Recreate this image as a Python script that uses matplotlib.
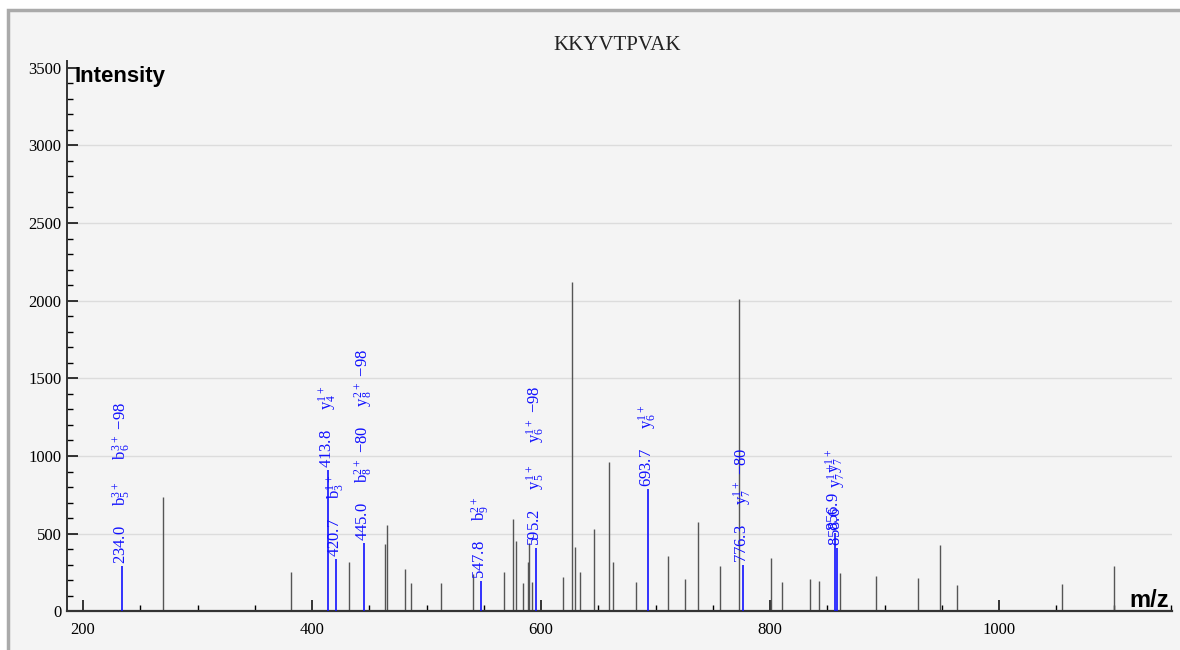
import matplotlib
matplotlib.use("Agg")
import matplotlib.pyplot as plt
from matplotlib.patches import Rectangle
from matplotlib.ticker import MultipleLocator

# ---------------- data ----------------
title = "KKYVTPVAK"

peak_mz = [270.1, 381.8, 431.9, 463.4, 465.1, 481.1, 486.3, 512.3, 540.5, 567.3,
           575.7, 578.3, 583.8, 588.2, 589.3, 592.5, 619.0, 626.8, 630.0, 633.9,
           645.8, 659.7, 662.7, 683.0, 710.7, 725.6, 736.9, 756.6, 772.7, 800.4,
           810.7, 834.7, 842.8, 860.8, 892.8, 929.2, 948.1, 963.3, 1055.2, 1100.6]
peak_int = [738, 251, 315, 433, 556, 270, 184, 180, 240, 253,
            592, 451, 184, 319, 442, 191, 219, 2120, 416, 253,
            528, 960, 315, 189, 353, 209, 575, 292, 2010, 341,
            187, 206, 195, 249, 225, 212, 429, 171, 174, 292]

ion_mz = [234.0, 413.8, 420.7, 445.0, 547.8, 595.2, 693.7, 776.3, 856.9, 858.6]
ion_int = [294, 910, 337, 442, 195, 405, 788, 300, 505, 405]
ion_labels = [
    [r"$b_5^{3+}$", r"$b_6^{3+}$ −98"],
    [r"$y_4^{1+}$"],
    [r"$b_3^{1+}$"],
    [r"$b_8^{2+}$ −80", r"$y_8^{2+}$ −98"],
    [r"$b_9^{2+}$"],
    [r"$y_5^{1+}$", r"$y_6^{1+}$ −98"],
    [r"$y_6^{1+}$"],
    [r"$y_7^{1+}$ −80"],
    [r"$y_7^{1+}$"],
    [r"$y_7^{1+}$"],
]

x_range = (186, 1151)
y_range = (0, 3540)

# ---------------- style ----------------
plt.rcParams["mathtext.default"] = "regular"
serif = "Liberation Serif"
sans = "Liberation Sans"

W, H = 1180, 650
fig = plt.figure(figsize=(W / 100, H / 100), dpi=100, facecolor="white")

# outer panel with grey frame
fig.patches.append(Rectangle((8 / W, -0.1), 1.2, (H - 10) / H + 0.1,
                             transform=fig.transFigure, facecolor="#f4f4f4",
                             edgecolor="#aaaaaa", lw=2.5, zorder=-10))

ax = fig.add_axes([67 / W, 1 - 611.3 / H, (1172 - 67) / W, (611.3 - 61.5) / H])
ax.set_zorder(1)
ax.set_facecolor("none")
ax.set_xlim(*x_range)
ax.set_ylim(*y_range)

for s in ["top", "right"]:
    ax.spines[s].set_visible(False)
ax.spines["left"].set_color("#333333")
ax.spines["left"].set_linewidth(1.4)
ax.spines["bottom"].set_color("#333333")
ax.spines["bottom"].set_linewidth(1.6)

ax.xaxis.set_major_locator(MultipleLocator(200))
ax.xaxis.set_minor_locator(MultipleLocator(50))
ax.yaxis.set_major_locator(MultipleLocator(500))
ax.yaxis.set_minor_locator(MultipleLocator(100))
ax.tick_params(which="major", direction="in", length=7.7, width=1.1, color="black")
ax.tick_params(which="minor", direction="in", length=4.3, width=1.0, color="black")
ax.tick_params(axis="x", which="major", pad=8)
ax.tick_params(axis="y", which="major", pad=4)
for lab in ax.get_xticklabels() + ax.get_yticklabels():
    lab.set_fontfamily(serif)
    lab.set_fontsize(12)

# horizontal grid
for g in range(500, 3500, 500):
    ax.axhline(g, color="#dcdcdc", lw=1.0, zorder=0)

# unannotated peaks
ax.vlines(peak_mz, 0, peak_int, colors="#555555", lw=1.0, zorder=2)

# annotated peaks
ax.vlines(ion_mz, 0, ion_int, colors="#1010ff", lw=1.2, zorder=3)
gap = "     "
for mz, it, labs in zip(ion_mz, ion_int, ion_labels):
    txt = f"{mz:.1f}" + gap + gap.join(labs)
    ax.annotate(txt, (mz, it), xytext=(0, 1.5), textcoords="offset points",
                rotation=90, ha="center", va="bottom", color="#1010ff",
                fontfamily=serif, fontsize=12, zorder=4, annotation_clip=False)

# texts
fig.text(617 / W, 1 - 45 / H, title, ha="center", va="center",
         fontfamily=serif, fontsize=15, color="#222222")
fig.text(75 / W, 1 - 82 / H, "Intensity", ha="left", va="baseline",
         fontfamily=sans, fontweight="bold", fontsize=16, color="black")
fig.text(1129 / W, 1 - 607 / H, "m/z", ha="left", va="baseline",
         fontfamily=sans, fontweight="bold", fontsize=17, color="black")

fig.savefig("out.png", dpi=100, facecolor=fig.get_facecolor())
